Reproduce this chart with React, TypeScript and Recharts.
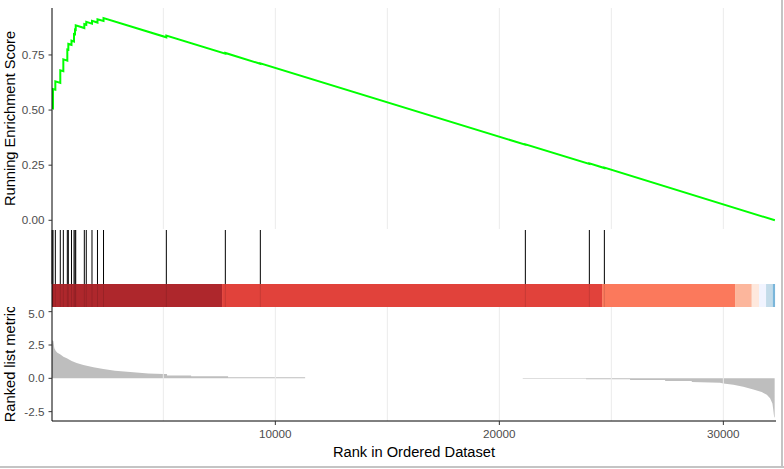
import React from 'react';
import { ComposedChart, Line, Area, XAxis, YAxis, ReferenceLine, ReferenceArea } from 'recharts';

// Running enrichment score path (rank, score); repeated ranks are the jumps at hits
const esRanks = [30, 75, 75, 179, 179, 400, 400, 536, 536, 714, 714, 759, 759, 900, 900, 1013, 1013, 1058, 1058, 1089, 1089, 1473, 1473, 1560, 1560, 1815, 1815, 2060, 2060, 2330, 2330, 5134, 5134, 7768, 7768, 9330, 9330, 21161, 21161, 24018, 24018, 24688, 24688, 32300];
const esValues = [0.51, 0.508, 0.595, 0.592, 0.63, 0.623, 0.68, 0.676, 0.73, 0.724, 0.775, 0.774, 0.8, 0.796, 0.815, 0.811, 0.845, 0.844, 0.865, 0.864, 0.884, 0.872, 0.89, 0.887, 0.9, 0.892, 0.905, 0.897, 0.912, 0.904, 0.917, 0.83, 0.838, 0.756, 0.759, 0.71, 0.712, 0.343, 0.345, 0.256, 0.258, 0.237, 0.239, 0.0];

// Gene-set hit positions
const hitRanks = [35, 75, 179, 400, 536, 714, 759, 900, 1013, 1058, 1089, 1473, 1560, 1815, 2060, 2330, 5134, 7768, 9330, 21161, 24018, 24688];

// Colour band segments
const bandStarts = [30, 7621, 24585, 30522, 31268, 31594, 31906, 32205];
const bandEnds = [7621, 24585, 30522, 31268, 31594, 31906, 32205, 32308];
const bandColors = ['#A50F15', '#DE2D26', '#FB6A4A', '#FCAE91', '#FEE5D9', '#EFF3FF', '#BDD7E7', '#6BAED6'];

// Ranked list metric (rank, metric)
const metricRanks = [30, 90, 135, 200, 270, 390, 540, 690, 910, 1130, 1430, 1880, 2320, 2840, 3660, 4330, 5000, 5165, 5165, 6240, 6240, 7890, 7890, 11330, 11330, 21045, 21045, 23870, 23870, 25835, 25835, 27400, 27400, 28590, 28590, 29000, 29850, 30000, 30450, 30890, 31340, 31710, 31940, 32085, 32190, 32230, 32265, 32290];
const metricValues = [2.85, 2.8, 2.25, 2.05, 1.92, 1.8, 1.62, 1.5, 1.3, 1.15, 1.0, 0.83, 0.7, 0.57, 0.45, 0.36, 0.32, 0.32, 0.22, 0.22, 0.15, 0.15, 0.08, 0.08, 0, 0, -0.04, -0.04, -0.07, -0.07, -0.13, -0.13, -0.2, -0.2, -0.28, -0.3, -0.33, -0.38, -0.48, -0.63, -0.83, -1.03, -1.23, -1.5, -1.88, -2.38, -2.88, -2.95];

const gridRanks = [5000, 10000, 15000, 20000, 25000, 30000];
const xTicks = [10000, 20000, 30000];
const esTicks = [0, 0.25, 0.5, 0.75];
const metricTicks = [-2.5, 0, 2.5, 5];

const esData = esRanks.map((r, i) => ({ rank: r, es: esValues[i] }));
const metricData = metricRanks.map((r, i) => ({ rank: r, metric: metricValues[i] }));

const X_DOMAIN: [number, number] = [30, 32350];
const FONT = '"Liberation Sans", Arial, sans-serif';
const tickStyle = { fill: '#4D4D4D', fontSize: 11.7, fontFamily: FONT };

const yTitle = (text: string) => (props: any) => {
  const vb = props.viewBox || {};
  const cx = 15;
  const cy = (vb.y || 0) + (vb.height || 0) / 2;
  return (
    <text x={cx} y={cy} transform={`rotate(-90 ${cx} ${cy})`} textAnchor="middle" fontSize={14.67} fill="#000" fontFamily={FONT}>
      {text}
    </text>
  );
};

const xTitle = (props: any) => {
  const vb = props.viewBox || {};
  const cx = (vb.x || 0) + (vb.width || 0) / 2;
  const cy = (vb.y || 0) + 36;
  return (
    <text x={cx} y={cy} textAnchor="middle" fontSize={14.67} fill="#000" fontFamily={FONT}>
      Rank in Ordered Dataset
    </text>
  );
};

export default function App() {
  return (
    <div style={{ position: 'absolute', left: 0, top: 0, width: 784, height: 469, background: '#fff', fontFamily: FONT, overflow: 'hidden' }}>
      <div style={{ position: 'absolute', left: 0, top: 0 }}>
        <ComposedChart width={784} height={229} data={esData} margin={{ top: 8, right: 8, bottom: 0, left: 0 }}>
          <XAxis type="number" dataKey="rank" domain={X_DOMAIN} hide allowDataOverflow />
          <YAxis
            type="number"
            domain={[-0.0395, 0.963]}
            ticks={esTicks}
            tickFormatter={(v: number) => v.toFixed(2)}
            width={52}
            axisLine={{ stroke: '#000' }}
            tickLine={{ stroke: '#333' }}
            tickSize={3.5}
            tickMargin={4}
            tick={tickStyle}
            allowDataOverflow
            label={yTitle('Running Enrichment Score')}
          />
          {gridRanks.map((r) => (
            <ReferenceLine key={r} x={r} stroke="#EBEBEB" strokeWidth={1} />
          ))}
          <Line type="linear" dataKey="es" stroke="#00FF00" strokeWidth={2} dot={false} isAnimationActive={false} />
        </ComposedChart>
      </div>
      <div style={{ position: 'absolute', left: 0, top: 229 }}>
        <ComposedChart width={784} height={78} data={esData} margin={{ top: 0, right: 8, bottom: 0, left: 0 }}>
          <XAxis type="number" dataKey="rank" domain={X_DOMAIN} hide allowDataOverflow />
          <YAxis type="number" domain={[0, 1]} width={52} tick={false} tickLine={false} axisLine={{ stroke: '#000' }} allowDataOverflow />
          {bandStarts.map((s, i) => (
            <ReferenceArea key={'b' + i} x1={s} x2={bandEnds[i]} y1={0} y2={0.295} fill={bandColors[i]} fillOpacity={0.9} stroke="none" />
          ))}
          {hitRanks.map((r) => (
            <ReferenceLine key={'h' + r} segment={[{ x: r, y: 0.295 }, { x: r, y: 0.987 }]} stroke="#000" strokeWidth={1} />
          ))}
          {hitRanks.map((r) => (
            <ReferenceLine key={'l' + r} segment={[{ x: r, y: 0 }, { x: r, y: 0.295 }]} stroke="#000" strokeOpacity={0.12} strokeWidth={1} />
          ))}
        </ComposedChart>
      </div>
      <div style={{ position: 'absolute', left: 0, top: 307 }}>
        <ComposedChart width={784} height={162} data={metricData} margin={{ top: 0, right: 8, bottom: 0, left: 0 }}>
          <XAxis
            type="number"
            dataKey="rank"
            domain={X_DOMAIN}
            ticks={xTicks}
            height={48}
            axisLine={{ stroke: '#000' }}
            tickLine={{ stroke: '#333' }}
            tickSize={4}
            tickMargin={5}
            tick={tickStyle}
            allowDataOverflow
            label={xTitle}
          />
          <YAxis
            type="number"
            domain={[-3.2, 5.35]}
            ticks={metricTicks}
            tickFormatter={(v: number) => v.toFixed(1)}
            width={52}
            axisLine={{ stroke: '#000' }}
            tickLine={{ stroke: '#333' }}
            tickSize={3.5}
            tickMargin={4}
            tick={tickStyle}
            allowDataOverflow
            label={yTitle('Ranked list metric')}
          />
          {gridRanks.map((r) => (
            <ReferenceLine key={r} x={r} stroke="#EBEBEB" strokeWidth={1} />
          ))}
          <Area type="linear" dataKey="metric" baseValue={0} stroke="none" fill="#BEBEBE" fillOpacity={1} isAnimationActive={false} />
        </ComposedChart>
      </div>
      <div style={{ position: 'absolute', left: 781, top: 0, width: 2, height: 467, background: '#C4C4C4' }} />
      <div style={{ position: 'absolute', left: 0, top: 466, width: 784, height: 2, background: '#C4C4C4' }} />
    </div>
  );
}
